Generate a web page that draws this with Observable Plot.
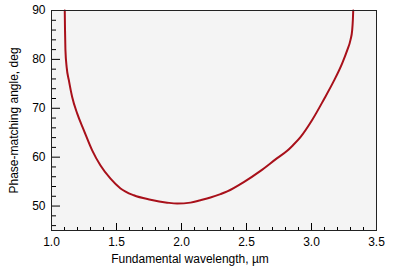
<!DOCTYPE html>
<html>
<head>
<meta charset="utf-8">
<script src="https://cdn.jsdelivr.net/npm/d3@7"></script>
<script src="https://cdn.jsdelivr.net/npm/@observablehq/plot@0.6"></script>
<style>
  html, body { margin: 0; padding: 0; background: #ffffff; }
  #chart { width: 398px; height: 276px; }
</style>
</head>
<body>
<div id="chart"></div>
<script>
// Fundamental wavelength (µm) and phase-matching angle (deg)
const wavelength = [1.102, 1.104, 1.107, 1.117, 1.133, 1.159, 1.198, 1.249, 1.313, 1.377,
  1.454, 1.531, 1.633, 1.762, 1.890, 1.967, 2.069, 2.146, 2.223, 2.300,
  2.352, 2.479, 2.608, 2.736, 2.813, 2.852, 2.915, 3.005, 3.095, 3.172,
  3.236, 3.275, 3.300, 3.313, 3.318, 3.321];
const angle = [90, 86, 82, 78.3, 75.8, 72.3, 68.9, 65.5, 61.4, 58.3,
  55.6, 53.6, 52.2, 51.3, 50.7, 50.5, 50.7, 51.2, 51.75, 52.45,
  53.0, 54.9, 57.2, 59.8, 61.3, 62.3, 64.1, 67.6, 71.8, 75.6,
  79.2, 81.9, 84.0, 86.0, 88.0, 90];

const xMajorTicks = [1.0, 1.5, 2.0, 2.5, 3.0, 3.5];
const xMinorTicks = [1.1, 1.2, 1.3, 1.4, 1.6, 1.7, 1.8, 1.9, 2.1, 2.2, 2.3, 2.4,
  2.6, 2.7, 2.8, 2.9, 3.1, 3.2, 3.3, 3.4];
const yMajorTicks = [50, 60, 70, 80, 90];
const yMinorTicks = [46, 48, 52, 54, 56, 58, 62, 64, 66, 68, 72, 74, 76, 78, 82, 84, 86, 88];

const xLabel = "Fundamental wavelength, µm";
const yLabel = "Phase-matching angle, deg";

const data = wavelength.map((w, i) => ({w, a: angle[i]}));

const W = 398, H = 276;
const mL = 51, mR = 22, mT = 10, mB = 46;
const frameW = W - mL - mR, frameH = H - mT - mB;

const chart = Plot.plot({
  width: W,
  height: H,
  marginLeft: mL,
  marginRight: mR,
  marginTop: mT,
  marginBottom: mB,
  style: {fontFamily: "'Liberation Sans', Arial, sans-serif", fontSize: "12px", background: "#ffffff", color: "#000"},
  x: {domain: [1.0, 3.5]},
  y: {domain: [45, 90]},
  marks: [
    Plot.frame({fill: "#f4f4f4", stroke: null}),
    Plot.tickX(xMajorTicks, {x: d => d, insetTop: frameH - 7, stroke: "#000"}),
    Plot.tickX(xMinorTicks, {x: d => d, insetTop: frameH - 3, stroke: "#000"}),
    Plot.tickY(yMajorTicks, {y: d => d, insetRight: frameW - 9, stroke: "#000"}),
    Plot.tickY(yMinorTicks, {y: d => d, insetRight: frameW - 5, stroke: "#000"}),
    Plot.axisX(xMajorTicks, {tickSize: 0, tickPadding: 7, tickFormat: d3.format(".1f"), label: null, fontSize: 12, fill: "#000"}),
    Plot.axisY(yMajorTicks, {tickSize: 0, tickPadding: 6, tickFormat: d3.format("d"), label: null, fontSize: 12, fill: "#000"}),
    Plot.line(data, {x: "w", y: "a", stroke: "#a8101a", strokeWidth: 2, curve: "monotone-x"}),
    Plot.frame({stroke: "#222", strokeWidth: 1}),
    Plot.text([xLabel], {frameAnchor: "bottom", dy: 32, dx: -24, fontSize: 12, fill: "#000"}),
    Plot.text([yLabel], {frameAnchor: "left", textAnchor: "middle", rotate: -90, dx: -37, fontSize: 12, fill: "#000"})
  ]
});
document.getElementById("chart").appendChild(chart);
</script>
</body>
</html>
